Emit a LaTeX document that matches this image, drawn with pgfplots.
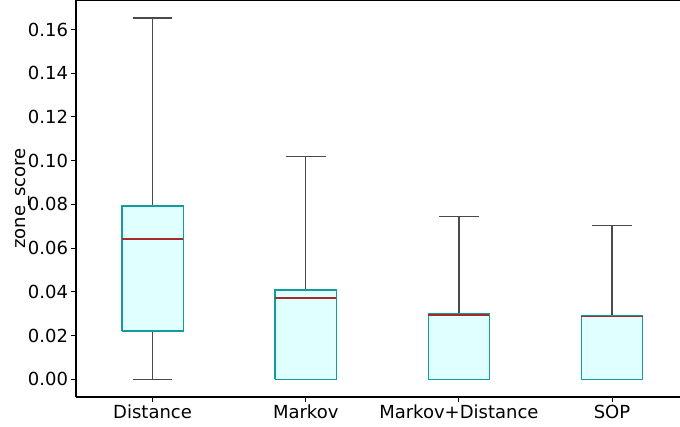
\documentclass[border=0pt]{standalone}
\usepackage{fontspec}
\setmainfont{DejaVu Sans}
\usepackage{pgfplots}
\pgfplotsset{compat=1.18}

\definecolor{boxedge}{HTML}{129C9C}
\definecolor{boxfill}{HTML}{E0FFFF}
\definecolor{medline}{HTML}{A52A2A}
\definecolor{whisk}{HTML}{4A4A4A}

\begin{document}
\begin{tikzpicture}
\begin{axis}[
  scale only axis,
  width=604bp, height=397bp,
  xmin=0.5, xmax=4.444,
  ymin=-0.0081, ymax=0.1735,
  axis x line*=box, axis y line*=left,
  axis line style={-, line width=1.1bp, black},
  xtick={1,2,3,4},
  xticklabels={Distance, Markov, Markov+Distance, SOP},
  ytick={0,0.02,...,0.161},
  yticklabel style={/pgf/number format/.cd, fixed, fixed zerofill, precision=2},
  /pgf/number format/assume math mode=true,
  xtick pos=bottom, ytick pos=left,
  tick align=outside,
  major tick length=4.5bp,
  every tick/.style={black, line width=1bp},
  ticklabel style={font=\fontsize{18bp}{21bp}\selectfont},
  label style={font=\fontsize{18bp}{21bp}\selectfont},
  ylabel={zone\_score},
  ylabel shift=-9bp,
  whisker/.style={draw=whisk, line width=1.5bp, mark=none},
  box/.style={draw=boxedge, fill=boxfill, line width=1.4bp, mark=none},
  median/.style={draw=medline, line width=1.6bp, mark=none},
]
% Distance
\addplot[whisker] coordinates {(1,0.0792) (1,0.1652)};
\addplot[whisker] coordinates {(0.87,0.1652) (1.13,0.1652)};
\addplot[whisker] coordinates {(1,0) (1,0.0221)};
\addplot[whisker] coordinates {(0.87,0) (1.13,0)};
\addplot[box] coordinates {(0.8,0.0221) (1.2,0.0221) (1.2,0.0792) (0.8,0.0792) (0.8,0.0221)};
\addplot[median] coordinates {(0.8,0.0643) (1.2,0.0643)};
% Markov
\addplot[whisker] coordinates {(2,0.0408) (2,0.1020)};
\addplot[whisker] coordinates {(1.87,0.1020) (2.13,0.1020)};
\addplot[whisker] coordinates {(1.87,0) (2.13,0)};
\addplot[box] coordinates {(1.8,0) (2.2,0) (2.2,0.0408) (1.8,0.0408) (1.8,0)};
\addplot[median] coordinates {(1.8,0.0373) (2.2,0.0373)};
% Markov+Distance
\addplot[whisker] coordinates {(3,0.0300) (3,0.0745)};
\addplot[whisker] coordinates {(2.87,0.0745) (3.13,0.0745)};
\addplot[whisker] coordinates {(2.87,0) (3.13,0)};
\addplot[box] coordinates {(2.8,0) (3.2,0) (3.2,0.0300) (2.8,0.0300) (2.8,0)};
\addplot[median] coordinates {(2.8,0.0294) (3.2,0.0294)};
% SOP
\addplot[whisker] coordinates {(4,0.0290) (4,0.0704)};
\addplot[whisker] coordinates {(3.87,0.0704) (4.13,0.0704)};
\addplot[whisker] coordinates {(3.87,0) (4.13,0)};
\addplot[box] coordinates {(3.8,0) (4.2,0) (4.2,0.0290) (3.8,0.0290) (3.8,0)};
\addplot[median] coordinates {(3.8,0.0288) (4.2,0.0288)};
\coordinate (sw) at (rel axis cs:0,0);
\coordinate (ne) at (rel axis cs:1,1);
\end{axis}
\pgfresetboundingbox
\path (sw) ++(-76bp,-30bp) rectangle (ne);
\end{tikzpicture}
\end{document}
